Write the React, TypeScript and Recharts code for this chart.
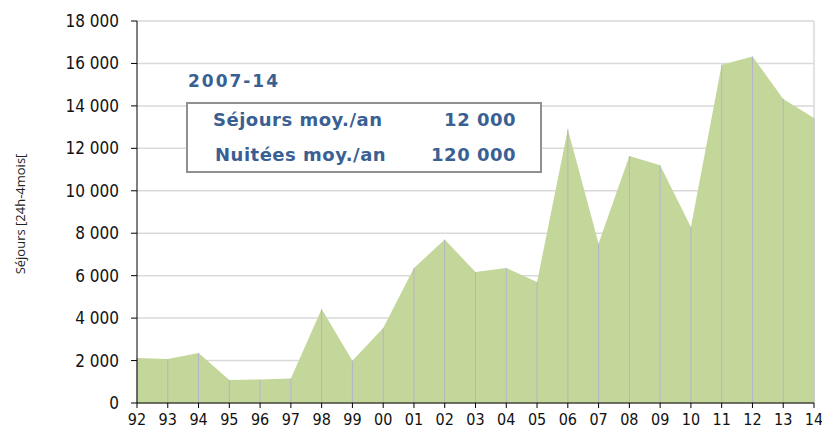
import { AreaChart, Area, CartesianGrid, ReferenceLine, XAxis, YAxis } from "recharts";

const years = ["92", "93", "94", "95", "96", "97", "98", "99", "00", "01", "02", "03", "04", "05", "06", "07", "08", "09", "10", "11", "12", "13", "14"];
const sejours = [2120, 2070, 2360, 1080, 1110, 1150, 4430, 1990, 3530, 6360, 7700, 6170, 6360, 5700, 12900, 7510, 11640, 11200, 8290, 15940, 16330, 14330, 13430];
const yTicks = [0, 2000, 4000, 6000, 8000, 10000, 12000, 14000, 16000, 18000];

const boxTitle = "2007-14";
const boxRows = [
    { label: "Séjours moy./an", value: "12 000" },
    { label: "Nuitées moy./an", value: "120 000" },
];

const blue = "#3a6093";
const font = "'DejaVu Sans', sans-serif";
const tickFont = "'DejaVu Sans Condensed', 'DejaVu Sans', sans-serif";

function fmt(v: number) {
    const s = String(v);
    return s.length > 3 ? s.slice(0, s.length - 3) + " " + s.slice(-3) : s;
}

function App() {
    const data = years.map((y, i) => ({ year: y, value: sejours[i] }));

    return (
        <div style={{ position: "absolute", left: 0, top: 0, width: 822, height: 430, background: "#fff", fontFamily: font }}>
            <AreaChart width={822} height={430} data={data} margin={{ top: 21, right: 8, left: 0, bottom: 0 }}>
                <CartesianGrid vertical={false} stroke="#d9d9d9" strokeWidth={1.5} />
                <XAxis
                    dataKey="year"
                    height={27}
                    stroke="#000"
                    tickSize={5}
                    tick={{ fill: "#111", fontSize: 16, fontFamily: tickFont, dy: 4 }}
                    interval={0}
                />
                <YAxis
                    width={137}
                    domain={[0, 18000]}
                    ticks={yTicks}
                    tickFormatter={fmt}
                    stroke="#000"
                    tickSize={6}
                    tick={{ fill: "#111", fontSize: 17, fontFamily: tickFont, dx: -10 }}
                    label={{ value: "Séjours [24h-4mois[", angle: -90, position: "center", dx: -48, dy: 2, style: { fontSize: 13, fill: "#222", fontFamily: "'Open Sans', sans-serif" } }}
                />
                <Area type="linear" dataKey="value" stroke="none" fill="#c4d79b" fillOpacity={1} isAnimationActive={false} />
                <ReferenceLine x="14" stroke="#d9d9d9" strokeWidth={1.5} />
                {data.map((d) => (
                    <ReferenceLine key={d.year} segment={[{ x: d.year, y: 0 }, { x: d.year, y: d.value }]} stroke="#b4b4c6" strokeWidth={1} />
                ))}
            </AreaChart>
            <div style={{ position: "absolute", left: 188, top: 71, color: blue, fontWeight: "bold", fontSize: 17, letterSpacing: 2 }}>
                {boxTitle}
            </div>
            <div style={{ position: "absolute", left: 186, top: 102, width: 352, height: 67, border: "2px solid #909090", background: "#fff" }}>
                {boxRows.map((r, i) => (
                    <div key={r.label} style={{ position: "absolute", left: 25 + i * 2, right: 24, top: 5 + i * 35, display: "flex", justifyContent: "space-between", color: blue, fontWeight: "bold", fontSize: 18, letterSpacing: 0.5 }}>
                        <span>{r.label}</span>
                        <span>{r.value}</span>
                    </div>
                ))}
            </div>
        </div>
    );
}

export default App;
